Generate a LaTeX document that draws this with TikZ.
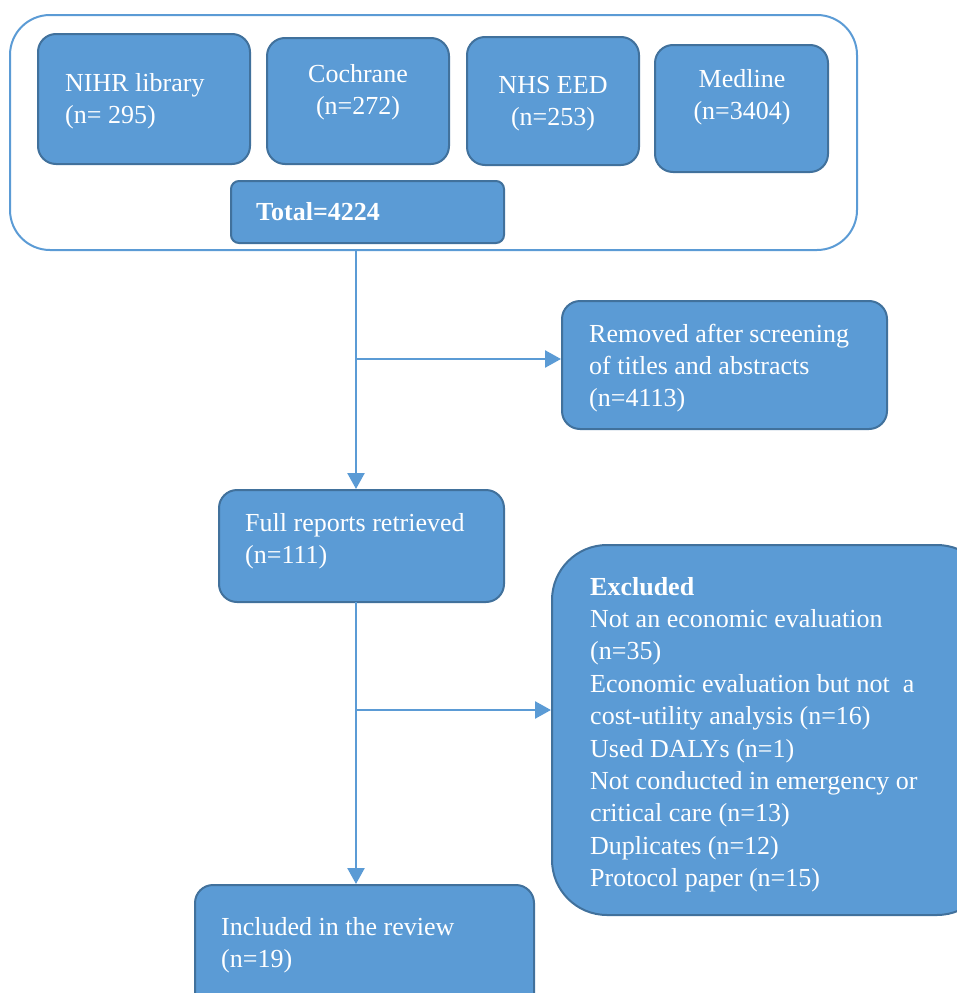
\documentclass[tikz,border=0pt]{standalone}
\usepackage{fontspec}
\setmainfont{Liberation Serif}
\usetikzlibrary{arrows.meta}
\definecolor{boxfill}{HTML}{5B9BD5}
\definecolor{boxline}{HTML}{41719C}
\definecolor{conn}{HTML}{5B9BD5}
\tikzset{
  box/.style={draw=boxline, line width=2pt, fill=boxfill, inner sep=0pt, rounded corners=18pt},
  txt/.style={text=white, inner sep=0pt, font=\fontsize{26}{32.4}\selectfont},
  connector/.style={draw=conn, line width=2.5pt, -{Triangle[length=16pt,width=17pt]}},
  plainline/.style={draw=conn, line width=2.5pt}
}
\begin{document}
\begin{tikzpicture}[x=1pt,y=-1pt]
\useasboundingbox (0,0) rectangle (957,993);
\clip (0,0) rectangle (957,993);
% outer frame
\node[draw=conn, line width=2pt, rounded corners=40pt, minimum width=847pt, minimum height=235pt, inner sep=0pt] (outer) at (433.5,132.5) {};
% database boxes
\node[box, minimum width=212pt, minimum height=130pt] (nihr) at (144,99) {};
\node[txt, anchor=base west] (nihr1) at (65,91) {NIHR library};
\node[txt, anchor=base west] (nihr2) at (65,123) {(n= 295)};
\node[box, minimum width=182pt, minimum height=126pt] (coch) at (358,101) {};
\node[txt, anchor=base] (coch1) at (358,82) {Cochrane};
\node[txt, anchor=base] (coch2) at (358,114) {(n=272)};
\node[box, minimum width=172pt, minimum height=128pt] (nhs) at (553,101) {};
\node[txt, anchor=base] (nhs1) at (553,93) {NHS EED};
\node[txt, anchor=base] (nhs2) at (553,125) {(n=253)};
\node[box, minimum width=173pt, minimum height=127pt] (med) at (741.5,108.5) {};
\node[txt, anchor=base] (med1) at (742,87) {Medline};
\node[txt, anchor=base] (med2) at (742,119) {(n=3404)};
\node[box, rounded corners=8pt, minimum width=273pt, minimum height=62pt] (total) at (367.5,212) {};
\node[txt, anchor=base west, font=\fontsize{26}{32.4}\selectfont\bfseries] (total1) at (256,220) {Total=4224};
% removed
\node[box, minimum width=325pt, minimum height=128pt] (removed) at (724.5,365) {};
\node[txt, anchor=base west] (rem1) at (589,342) {Removed after screening};
\node[txt, anchor=base west] (rem2) at (589,374) {of titles and abstracts};
\node[txt, anchor=base west] (rem3) at (589,406) {(n=4113)};
% full reports
\node[box, minimum width=285pt, minimum height=112pt] (full) at (361.5,546) {};
\node[txt, anchor=base west] (full1) at (245,531) {Full reports retrieved};
\node[txt, anchor=base west] (full2) at (245,563) {(n=111)};
% excluded
\node[box, rounded corners=55pt, minimum width=440pt, minimum height=370pt] (excl) at (772,730) {};
\node[txt, anchor=base west, font=\fontsize{26}{32.4}\selectfont\bfseries] (ex0) at (590,595) {Excluded};
\node[txt, anchor=base west] (ex1) at (590,627.4) {Not an economic evaluation};
\node[txt, anchor=base west] (ex2) at (590,659.8) {(n=35)};
\node[txt, anchor=base west] (ex3) at (590,692.2) {Economic evaluation but not\ \ a};
\node[txt, anchor=base west] (ex4) at (590,724.6) {cost-utility analysis (n=16)};
\node[txt, anchor=base west] (ex5) at (590,757) {Used DALYs (n=1)};
\node[txt, anchor=base west] (ex6) at (590,789.4) {Not conducted in emergency or};
\node[txt, anchor=base west] (ex7) at (590,821.8) {critical care (n=13)};
\node[txt, anchor=base west] (ex8) at (590,854.2) {Duplicates (n=12)};
\node[txt, anchor=base west] (ex9) at (590,886.6) {Protocol paper (n=15)};
% included
\node[box, minimum width=339pt, minimum height=140pt] (incl) at (364.5,955) {};
\node[txt, anchor=base west] (inc1) at (221,935) {Included in the review};
\node[txt, anchor=base west] (inc2) at (221,967) {(n=19)};
% connectors
\coordinate (s1) at (356,250);
\coordinate (b1) at (356,359);
\coordinate (s2) at (356,602);
\coordinate (b2) at (356,710);
\draw[connector] (s1) -- (s1 |- full.north);
\draw[connector] (b1) -- (b1 -| removed.west);
\draw[connector] (s2) -- (s2 |- incl.north);
\draw[connector] (b2) -- (b2 -| excl.west);
\end{tikzpicture}
\end{document}
